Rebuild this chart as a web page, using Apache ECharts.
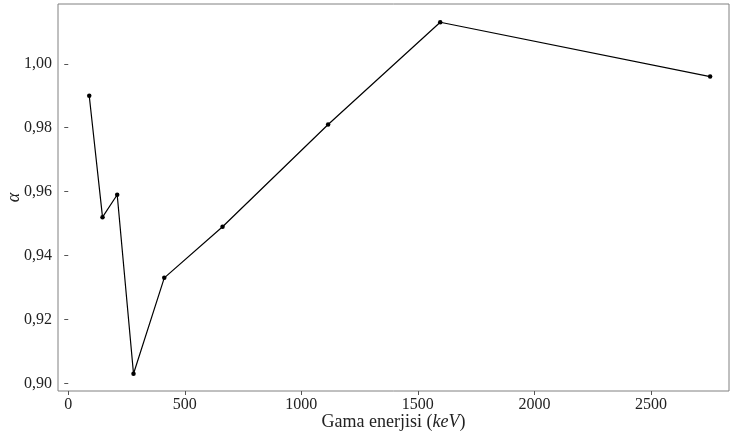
<!DOCTYPE html>
<html><head><meta charset="utf-8">
<script src="https://cdn.jsdelivr.net/npm/echarts@6/dist/echarts.min.js"></script>
<style>html,body{margin:0;padding:0;background:#fff}#c{width:730px;height:438px}</style>
</head><body><div id="c"></div>
<script>
const energies = [90, 147, 210, 280, 412, 662, 1115, 1596, 2754];
const alphaValues = [0.990, 0.952, 0.959, 0.903, 0.933, 0.949, 0.981, 1.013, 0.996];
const xTicks = [0, 500, 1000, 1500, 2000, 2500];
const yTicks = [0.90, 0.92, 0.94, 0.96, 0.98, 1.00];

const FONT = 'Liberation Serif';
const chart = echarts.init(document.getElementById('c'));
chart.setOption({
  animation: false,
  grid: {left: 58, top: 4, right: 1, bottom: 47, outerBoundsMode: 'none', containLabel: false,
    show: true, borderColor: '#808080', borderWidth: 1, backgroundColor: '#fff'},
  xAxis: {
    type: 'value', min: -44, max: 2835,
    axisLine: {show: false},
    splitLine: {show: false},
    axisTick: {show: true, length: 4, lineStyle: {color: '#555'}, customValues: xTicks},
    axisLabel: {customValues: xTicks, fontFamily: FONT, fontSize: 16, color: '#222', margin: 6,
      formatter: v => String(Math.round(v))},
    name: '{n|Gama enerjisi (}{i|keV}{n|)}',
    nameLocation: 'middle', nameGap: 31, nameMoveOverlap: false,
    nameTextStyle: {verticalAlign: 'middle', rich: {n: {fontFamily: FONT, fontSize: 18, color: '#222'}, i: {fontFamily: FONT, fontSize: 18, fontStyle: 'italic', color: '#222'}}}
  },
  yAxis: {
    type: 'value', min: 0.8976, max: 1.0187,
    axisLine: {show: false},
    splitLine: {show: false},
    axisTick: {show: true, length: 4, lineStyle: {color: '#555'}, customValues: yTicks},
    axisLabel: {customValues: yTicks, fontFamily: FONT, fontSize: 16, color: '#222', margin: 6,
      formatter: v => v.toFixed(2).replace('.', ',')},
    name: 'α', nameLocation: 'middle', nameGap: 44, nameRotate: 90, nameMoveOverlap: false,
    nameTextStyle: {fontFamily: FONT, fontSize: 18, fontStyle: 'italic', color: '#222', verticalAlign: 'middle'}
  },
  series: [{
    type: 'line',
    data: energies.map((e, i) => [e, alphaValues[i]]),
    lineStyle: {color: '#000', width: 1.2},
    itemStyle: {color: '#000'},
    symbol: 'circle', symbolSize: 4.5,
    showSymbol: true
  }]
});
</script></body></html>
